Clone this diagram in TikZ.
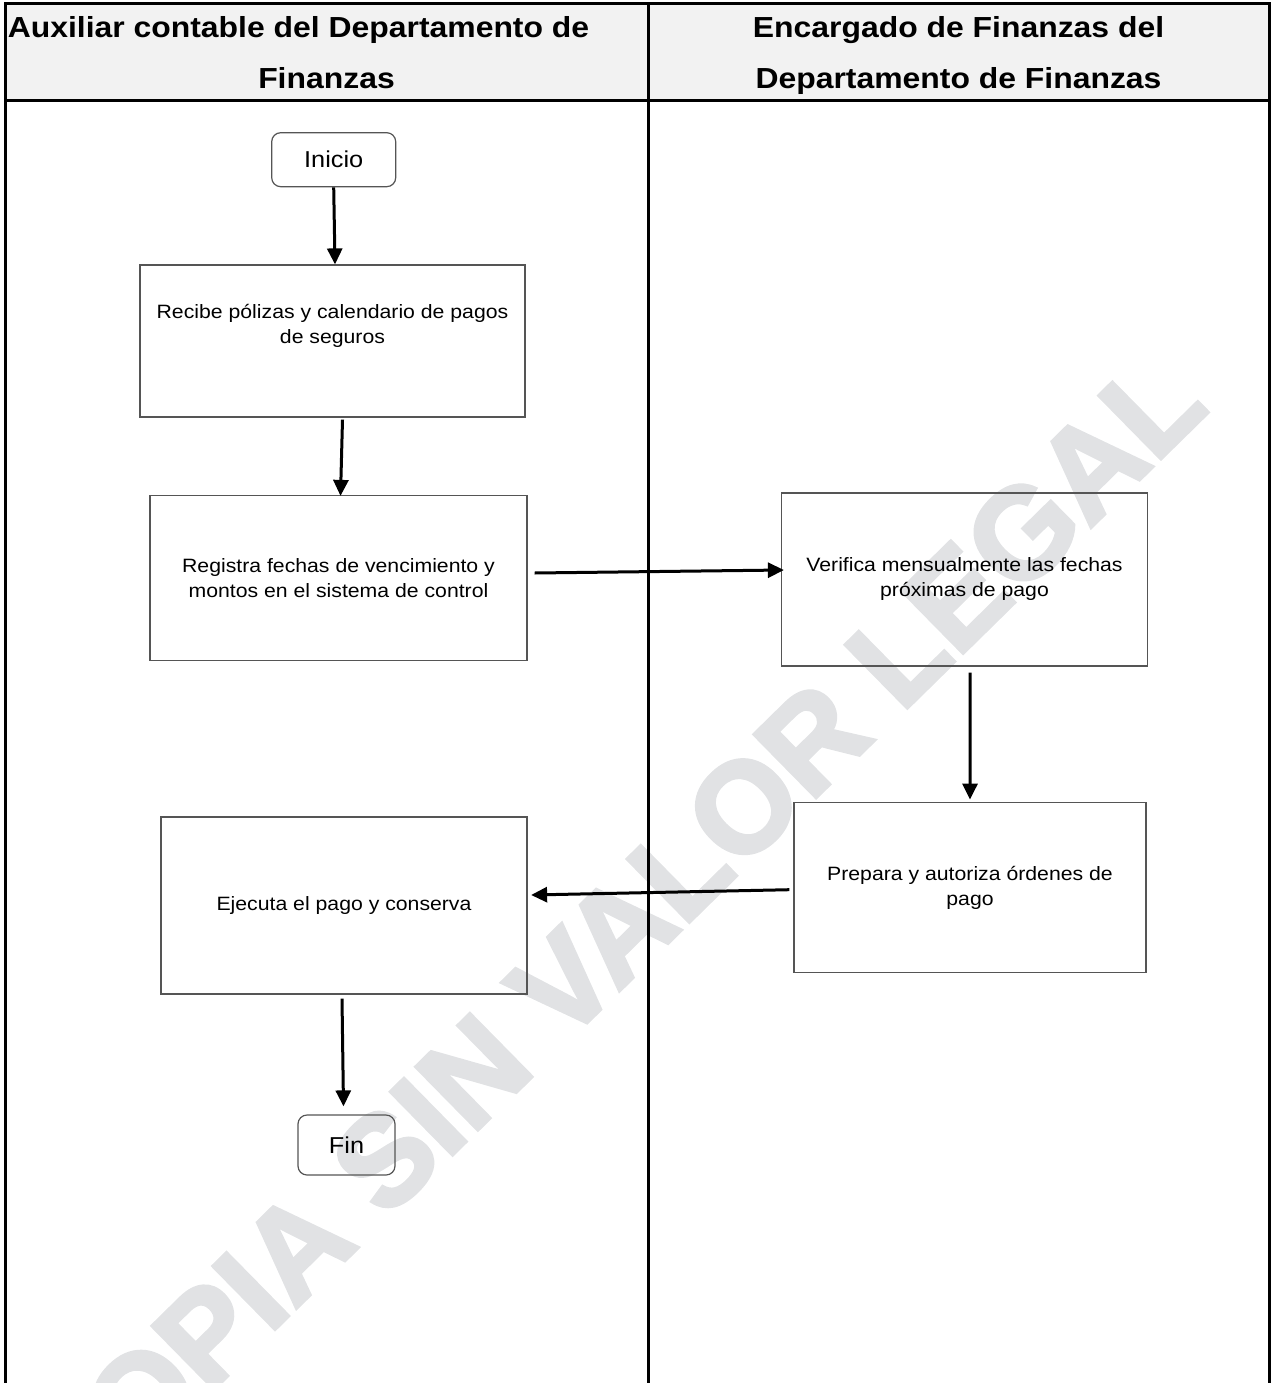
\documentclass[tikz,border=0pt]{standalone}
\usepackage{fontspec}
\setmainfont{Liberation Sans}[FakeStretch=1.1]
\newfontfamily\marcafont{Liberation Sans}[BoldFeatures={FakeBold=3}]
\usetikzlibrary{arrows.meta,positioning}
\definecolor{encabgris}{RGB}{242,242,242}
\definecolor{marcagris}{RGB}{225,226,228}
\definecolor{bordegris}{RGB}{85,85,85}
\tikzset{
  carril/.style={line width=3bp},
  encab/.style={font=\bfseries\fontsize{29bp}{51bp}\selectfont,align=center,inner sep=0pt,anchor=north},
  caja/.style={draw=bordegris,line width=1.2bp},
  texto/.style={align=center,font=\fontsize{19.3bp}{25bp}\selectfont},
  proc/.style={caja,texto},
  term/.style={caja,rounded corners=9bp,font=\fontsize{23bp}{28bp}\selectfont},
  flecha/.style={-{Triangle[length=16bp,width=15bp]},line width=3bp},
  marca/.style={text=marcagris,font=\marcafont\bfseries\fontsize{128bp}{136bp}\selectfont}
}

\begin{document}
\begin{tikzpicture}[x=1bp,y=-1bp]
  \useasboundingbox (0,0) rectangle (1273,1383);
  % marca de agua
  \node[marca,rotate=44.5] (marca) at (610,938) {COPIA SIN VALOR LEGAL};

  % carriles
  \fill[encabgris] (5,3.5) rectangle (1269,100.5);
  \draw[carril] (5,1383) -- (5,3.5) -- (1269,3.5) -- (1269,1383);
  \draw[carril] (5,100.5) -- (1269,100.5);
  \draw[carril] (648,3.5) -- (648,1383);
  \node[encab] (hdraux) at (326.5,16) {Auxiliar contable del Departamento de\hspace*{56bp}\\Finanzas};
  \node[encab] (hdrenc) at (958.5,16) {Encargado de Finanzas del\\Departamento de Finanzas};

  % auxiliar contable
  \node[term,minimum width=124bp,minimum height=54bp] (inicio) at (333.7,159.7) {Inicio};
  \node[caja,minimum width=385bp,minimum height=152bp,
        label={[texto,yshift=15.5bp]center:Recibe pólizas y calendario de pagos\\de seguros}] (recibe) at (332.5,341) {};
  \node[proc,minimum width=377bp,minimum height=165bp] (registra) at (338.5,578) {Registra fechas de vencimiento y\\montos en el sistema de control};
  \node[proc,minimum width=366bp,minimum height=177bp] (ejecuta) at (344,905.5) {Ejecuta el pago y conserva};
  \node[term,minimum width=97bp,minimum height=60bp] (fin) at (346.5,1145) {Fin};

  % encargado de finanzas
  \node[proc,minimum width=366bp,minimum height=173bp] (verifica) at (964.5,579.5) {Verifica mensualmente las fechas\\próximas de pago};
  \node[proc,minimum width=352bp,minimum height=170bp] (prepara) at (970,887.7) {Prepara y autoriza órdenes de\\pago};

  \draw[flecha] (inicio.south) -- ([xshift=2.5bp]recibe.north);
  \draw[flecha] ([xshift=10bp,yshift=-2bp]recibe.south) -- ([xshift=2bp,yshift=-1bp]registra.north);
  \draw[flecha] ([xshift=7bp,yshift=5bp]registra.east) -- ([xshift=3bp,yshift=9.5bp]verifica.west);
  \draw[flecha] ([xshift=5.5bp,yshift=-6bp]verifica.south) -- ([yshift=2.5bp]prepara.north);
  \draw[flecha] ([xshift=-4bp,yshift=-2bp]prepara.west) -- ([xshift=3.5bp,yshift=10.5bp]ejecuta.east);
  \draw[flecha] ([xshift=-2bp,yshift=-4bp]ejecuta.south) -- ([xshift=-3bp,yshift=8bp]fin.north);
\end{tikzpicture}
\end{document}
